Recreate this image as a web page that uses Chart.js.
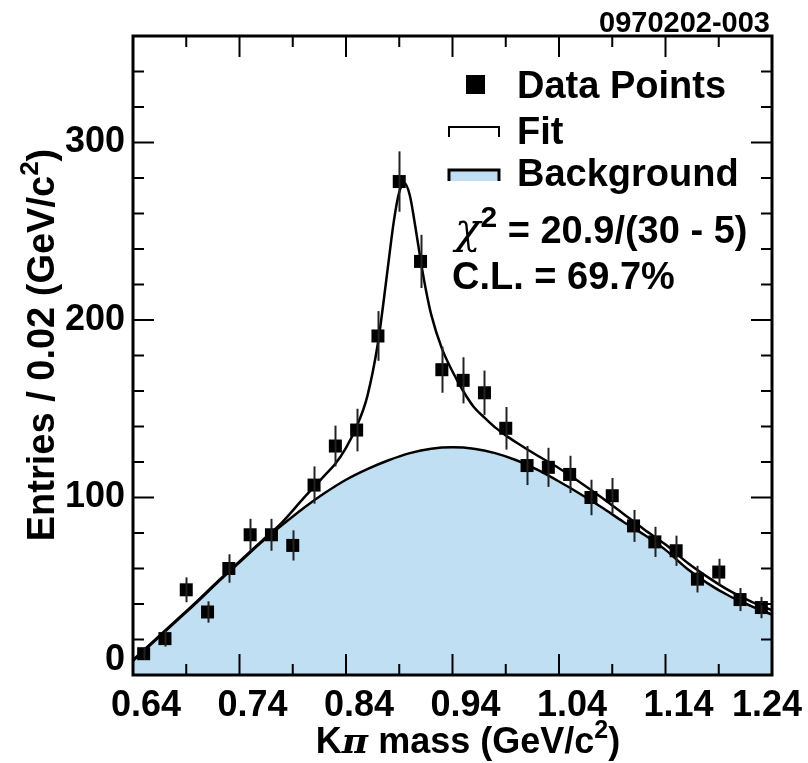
<!DOCTYPE html>
<html>
<head>
<meta charset="utf-8">
<script src="https://cdn.jsdelivr.net/npm/chart.js@4.4.0/dist/chart.umd.min.js"></script>
<style>
html, body { margin: 0; padding: 0; background: #fff; }
</style>
</head>
<body>
<canvas id="kpiChart" width="808" height="763"></canvas>
<script>
// bin centres, 0.02 GeV/c^2 wide
const massBins = [0.65, 0.67, 0.69, 0.71, 0.73, 0.75, 0.77, 0.79, 0.81, 0.83,
                  0.85, 0.87, 0.89, 0.91, 0.93, 0.95, 0.97, 0.99, 1.01, 1.03,
                  1.05, 1.07, 1.09, 1.11, 1.13, 1.15, 1.17, 1.19, 1.21, 1.23];
const entries = [12, 20.5, 48, 35.5, 60, 79, 79, 73, 107, 129,
                 138, 191, 278, 233, 172, 166, 159, 139, 118, 117,
                 113, 100, 101, 84, 75, 70, 54, 58, 42.5, 38];
const entryErrors = [3.5, 4.5, 7, 6, 8, 9, 9, 8.5, 10.5, 11.5,
                     12, 14, 17, 15, 13, 13, 12.5, 12, 11, 11,
                     10.5, 10, 10, 9, 8.5, 8.5, 7.5, 7.5, 6.5, 6];

// background curve
const bgMass = [0.64, 0.66, 0.68, 0.70, 0.72, 0.74, 0.76, 0.78, 0.80, 0.82,
                0.84, 0.86, 0.88, 0.90, 0.92, 0.94, 0.96, 0.98, 1.00, 1.02,
                1.04, 1.06, 1.08, 1.10, 1.12, 1.14, 1.16, 1.18, 1.20, 1.22, 1.24];
const bgValues = [8, 19, 30, 41, 52.5, 63.5, 74.5, 84.5, 94, 102.5,
                  110, 116, 121, 125, 127.5, 128.3, 127.5, 125, 121, 115.5,
                  109, 102, 94.5, 86.5, 79, 70.5, 60, 51.5, 44.5, 39, 34];

// fit = signal + background
const fitMass = [0.64, 0.66, 0.68, 0.70, 0.72, 0.74, 0.76, 0.78, 0.80, 0.81,
                 0.82, 0.83, 0.84, 0.85, 0.86, 0.87, 0.875, 0.88, 0.885, 0.89,
                 0.895, 0.90, 0.905, 0.91, 0.915, 0.92, 0.93, 0.94, 0.95, 0.96,
                 0.97, 0.98, 0.99, 1.00, 1.02, 1.04, 1.06, 1.08, 1.10, 1.12,
                 1.14, 1.16, 1.18, 1.20, 1.22, 1.24];
const fitValues = [8.5, 19.5, 30.5, 41.5, 53, 64, 75, 86, 99.5, 106,
                   112.5, 119, 128, 140, 157, 187, 209, 233, 256, 272,
                   277, 270, 253, 234, 217, 203, 184, 171, 160, 151,
                   145, 139.5, 135, 131, 123.5, 116.5, 108.5, 100, 91, 82,
                   73.5, 63.5, 55, 47.5, 41.5, 36.5];

const xTickLabels = ['0.64', '0.74', '0.84', '0.94', '1.04', '1.14', '1.24'];
const yTickLabels = ['0', '100', '200', '300'];

const FONT = "'Liberation Sans', Arial, Helvetica, sans-serif";
const BG_BLUE = '#c0dff3';

function pts(xs, ys) {
    return xs.map((x, i) => ({ x: x, y: ys[i] }));
}

// draws pieces of text one after another (for superscripts / symbols)
function runsWidth(ctx, runs) {
    let w = 0;
    runs.forEach(r => { ctx.font = r.font; r.w = ctx.measureText(r.text).width; w += r.w; });
    return w;
}
function drawRuns(ctx, runs, x, y) {
    let cx = x;
    runs.forEach(r => {
        ctx.font = r.font;
        ctx.fillText(r.text, cx, y - (r.rise || 0));
        cx += r.w;
    });
}

const extras = {
    id: 'extras',
    afterDatasetsDraw(chart) {
        const ctx = chart.ctx, xs = chart.scales.x, ys = chart.scales.y;
        ctx.save();
        ctx.strokeStyle = '#222';
        ctx.lineWidth = 2;
        massBins.forEach((m, i) => {
            const px = Math.round(xs.getPixelForValue(m)) + 0.5;
            ctx.beginPath();
            ctx.moveTo(px, ys.getPixelForValue(entries[i] - entryErrors[i]));
            ctx.lineTo(px, ys.getPixelForValue(entries[i] + entryErrors[i]));
            ctx.stroke();
        });
        ctx.restore();
    },
    afterDraw(chart) {
        const ctx = chart.ctx, xs = chart.scales.x, ys = chart.scales.y;
        const a = chart.chartArea;
        ctx.save();
        ctx.fillStyle = '#000';
        ctx.strokeStyle = '#000';

        // ticks pointing inwards, on all four sides
        ctx.lineWidth = 2;
        const xMajor = xTickLabels.map(Number);
        ctx.beginPath();
        xMajor.forEach((v, i) => {
            const p = xs.getPixelForValue(v);
            ctx.moveTo(p, a.bottom); ctx.lineTo(p, a.bottom - 21);
            ctx.moveTo(p, a.top); ctx.lineTo(p, a.top + 21);
            if (i < xMajor.length - 1) {
                const pm = xs.getPixelForValue(v + 0.05);
                ctx.moveTo(pm, a.bottom); ctx.lineTo(pm, a.bottom - 11);
                ctx.moveTo(pm, a.top); ctx.lineTo(pm, a.top + 11);
            }
        });
        for (let v = 20; v < ys.max; v += 20) {
            const p = ys.getPixelForValue(v);
            const len = v % 100 === 0 ? 21 : 11;
            ctx.moveTo(a.left, p); ctx.lineTo(a.left + len, p);
            ctx.moveTo(a.right, p); ctx.lineTo(a.right - len, p);
        }
        ctx.stroke();

        // frame
        ctx.lineWidth = 3;
        ctx.strokeRect(a.left, a.top, a.right - a.left, a.bottom - a.top);

        // tick labels
        ctx.font = 'bold 36px ' + FONT;
        ctx.textAlign = 'center';
        ctx.textBaseline = 'alphabetic';
        xTickLabels.forEach(t => {
            const w = ctx.measureText(t).width;
            const p = Math.min(xs.getPixelForValue(Number(t)) + 13, chart.width - 6 - w / 2);
            ctx.fillText(t, p, 716);
        });
        ctx.textAlign = 'right';
        ctx.textBaseline = 'middle';
        yTickLabels.forEach(t => {
            const p = Math.min(ys.getPixelForValue(Number(t)), a.bottom - 15);
            ctx.fillText(t, a.left - 8, p);
        });

        // axis titles
        ctx.textAlign = 'left';
        ctx.textBaseline = 'alphabetic';
        const xTitle = [
            { text: 'K', font: 'bold 36px ' + FONT },
            { text: '\u03c0', font: "italic bold 36px 'DejaVu Serif'" },
            { text: ' mass (GeV/c', font: 'bold 36px ' + FONT },
            { text: '2', font: 'bold 25px ' + FONT, rise: 15 },
            { text: ')', font: 'bold 36px ' + FONT }
        ];
        const xw = runsWidth(ctx, xTitle);
        drawRuns(ctx, xTitle, 468 - xw / 2, 753);

        const yTitle = [
            { text: 'Entries / 0.02 (GeV/c', font: 'bold 38px ' + FONT },
            { text: '2', font: 'bold 26px ' + FONT, rise: 16 },
            { text: ')', font: 'bold 38px ' + FONT }
        ];
        const yw = runsWidth(ctx, yTitle);
        ctx.save();
        ctx.translate(54, 345);
        ctx.rotate(-Math.PI / 2);
        drawRuns(ctx, yTitle, -yw / 2, 0);
        ctx.restore();

        // tag at top right
        ctx.font = 'bold 29px ' + FONT;
        ctx.textAlign = 'right';
        ctx.fillText('0970202-003', 770, 32);
        ctx.textAlign = 'left';

        // legend
        ctx.fillRect(466, 75, 19, 19);
        ctx.lineWidth = 2;
        ctx.beginPath();
        ctx.moveTo(449, 137); ctx.lineTo(449, 127); ctx.lineTo(499, 127); ctx.lineTo(499, 137);
        ctx.stroke();
        ctx.fillStyle = BG_BLUE;
        ctx.fillRect(449, 170, 50, 11);
        ctx.fillStyle = '#000';
        ctx.beginPath();
        ctx.moveTo(449, 181); ctx.lineTo(449, 170); ctx.lineTo(499, 170); ctx.lineTo(499, 181);
        ctx.lineWidth = 3;
        ctx.stroke();

        ctx.font = 'bold 38px ' + FONT;
        ctx.fillText('Data Points', 517, 98);
        ctx.fillText('Fit', 517, 144);
        ctx.fillText('Background', 517, 186);

        const chi = [
            { text: '\u03c7', font: "italic 42px 'DejaVu Serif'" },
            { text: '2', font: 'bold 30px ' + FONT, rise: 16 },
            { text: ' = 20.9/(30 - 5)', font: 'bold 38px ' + FONT }
        ];
        runsWidth(ctx, chi);
        drawRuns(ctx, chi, 455, 243);
        ctx.font = 'bold 38px ' + FONT;
        ctx.fillText('C.L. = 69.7%', 452, 289);

        ctx.restore();
    }
};

const ctx = document.getElementById('kpiChart').getContext('2d');
const kpiChart = new Chart(ctx, {
    type: 'scatter',
    data: {
        datasets: [{
            label: 'Background',
            type: 'line',
            data: pts(bgMass, bgValues),
            borderColor: '#000',
            borderWidth: 2.5,
            backgroundColor: BG_BLUE,
            fill: 'origin',
            pointRadius: 0,
            cubicInterpolationMode: 'monotone',
            order: 3
        }, {
            label: 'Fit',
            type: 'line',
            data: pts(fitMass, fitValues),
            borderColor: '#000',
            borderWidth: 2.5,
            fill: false,
            pointRadius: 0,
            cubicInterpolationMode: 'monotone',
            order: 2
        }, {
            label: 'Data Points',
            data: pts(massBins, entries),
            pointStyle: 'rect',
            pointRadius: 9.2,
            backgroundColor: '#000',
            borderColor: '#000',
            borderWidth: 0,
            order: 1
        }]
    },
    options: {
        responsive: false,
        animation: false,
        devicePixelRatio: 1,
        layout: { padding: { left: 0, top: 36, right: 36, bottom: 0 } },
        plugins: { legend: { display: false }, tooltip: { enabled: false } },
        scales: {
            x: {
                type: 'linear',
                min: 0.64,
                max: 1.24,
                grid: { display: false, drawTicks: false },
                border: { display: false },
                ticks: { display: false },
                afterFit: s => { s.height = 88; }
            },
            y: {
                min: 0,
                max: 360,
                grid: { display: false, drawTicks: false },
                border: { display: false },
                ticks: { display: false },
                afterFit: s => { s.width = 133; }
            }
        }
    },
    plugins: [extras]
});
</script>
</body>
</html>
